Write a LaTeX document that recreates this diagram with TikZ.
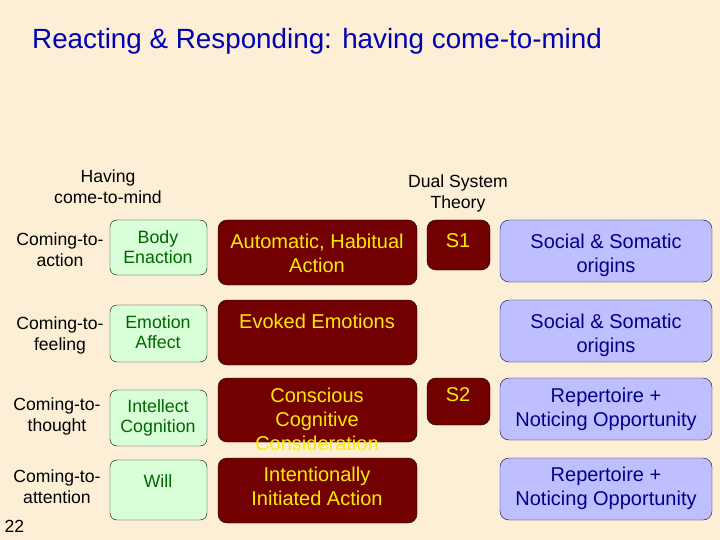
\documentclass[tikz,border=0pt]{standalone}
\usepackage{fontspec}
\setmainfont{Liberation Sans}
\begin{document}
\begin{tikzpicture}[x=1pt,y=-1pt,
 gbox/.style={draw=black,fill=green!15!white,rounded corners=7,thin},
 rbox/.style={draw=black,fill=red!45!black,rounded corners=9,thin},
 bbox/.style={draw=black!70!blue,fill=blue!25!white,rounded corners=9,thin},
 gt/.style={text=green!40!black,font=\fontsize{17.8}{20.5}\selectfont,align=center},
 rt/.style={text=yellow!95!orange,font=\fontsize{20}{24}\selectfont,align=center,anchor=north},
 bt/.style={text=blue!55!black,font=\fontsize{20}{24}\selectfont,align=center,anchor=north},
 lt/.style={font=\fontsize{17.6}{21}\selectfont,align=center}]
\definecolor{bg}{HTML}{FDEFD6}
\fill[bg] (0,0) rectangle (720,540);
\useasboundingbox (0,0) rectangle (720,540);
\node[anchor=west,text=blue!70!black,font=\fontsize{27.8}{32}\selectfont,inner sep=0pt] (title) at (32,41) {Reacting \& Responding: having come-to-mind};
\node[lt] (h1) at (108,187) {Having\\come-to-mind};
\node[lt] (h2) at (458,193) {Dual System\\Theory};
\node[lt] (l1) at (60,250) {Coming-to-\\action};
\node[lt] (l2) at (60,335) {Coming-to-\\feeling};
\node[lt] (l3) at (57,416) {Coming-to-\\thought};
\node[lt] (l4) at (57,487) {Coming-to-\\attention};
\node[lt,anchor=west] (num) at (1,526) {22};
\draw[gbox] (110,220) rectangle (207,275); \node[gt] (g1) at (158,247) {Body\\Enaction};
\draw[gbox] (110,305) rectangle (207,362); \node[gt] (g2) at (158,332) {Emotion\\Affect};
\draw[gbox] (110,390) rectangle (207,446); \node[gt] (g3) at (158,418) {Intellect\\Cognition};
\draw[gbox] (110,460) rectangle (207,520); \node[gt] (g4) at (158,481) {Will};
\draw[rbox] (218,220) rectangle (417,285); \node[rt] (r1) at (317,230) {Automatic, Habitual\\Action};
\draw[rbox] (218,300) rectangle (417,365); \node[rt] (r2) at (317,310) {Evoked Emotions};
\draw[rbox] (218,378) rectangle (417,442); \node[rt] (r3) at (317,384) {Conscious\\Cognitive\\Consideration};
\draw[rbox] (218,458) rectangle (417,523); \node[rt] (r4) at (317,463) {Intentionally\\Initiated Action};
\draw[rbox] (427,220) rectangle (490,270); \node[rt] (s1) at (458,230) {S1};
\draw[rbox] (427,378) rectangle (490,425); \node[rt] (s2) at (458,384) {S2};
\draw[bbox] (500,220) rectangle (712,282); \node[bt] (b1) at (606,230) {Social \& Somatic\\origins};
\draw[bbox] (500,300) rectangle (712,362); \node[bt] (b2) at (606,310) {Social \& Somatic\\origins};
\draw[bbox] (500,378) rectangle (712,440); \node[bt] (b3) at (606,384) {Repertoire +\\Noticing Opportunity};
\draw[bbox] (500,458) rectangle (712,520); \node[bt] (b4) at (606,463) {Repertoire +\\Noticing Opportunity};
\end{tikzpicture}
\end{document}
